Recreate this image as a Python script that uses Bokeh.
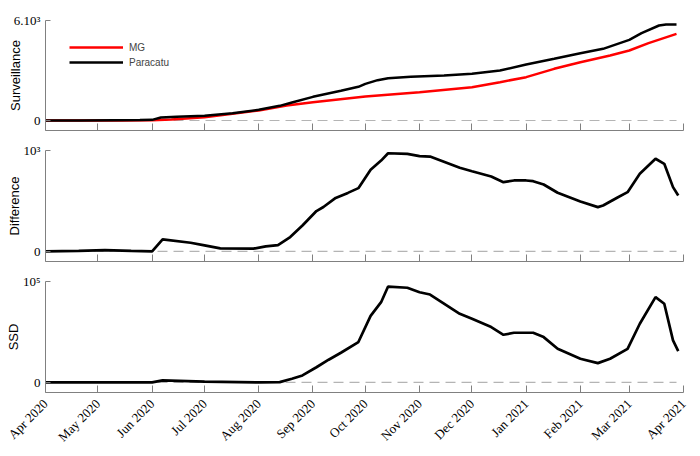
import datetime as dt
from math import pi
import pandas as pd
from bokeh.plotting import figure
from bokeh.layouts import column
from bokeh.models import Range1d, FixedTicker, Legend, LegendItem
from bokeh.embed import file_html
from bokeh.resources import INLINE

# ---------------- data ----------------
mg_dates = ["2020-04-01", "2020-05-15", "2020-06-01", "2020-06-12", "2020-07-01", "2020-07-17",
            "2020-08-01", "2020-08-17", "2020-09-01", "2020-10-01", "2020-11-01", "2020-12-01",
            "2020-12-17", "2021-01-01", "2021-01-17", "2021-02-01", "2021-02-18", "2021-03-01",
            "2021-03-12", "2021-03-28"]
mg_values = [0, 5, 15, 60, 200, 400, 600, 900, 1100, 1440, 1700, 2000, 2300, 2600, 3100, 3500,
             3900, 4200, 4640, 5200]

par_dates = ["2020-04-01", "2020-04-20", "2020-05-10", "2020-05-25", "2020-06-01", "2020-06-06",
             "2020-06-15", "2020-07-01", "2020-07-17", "2020-08-01", "2020-08-13", "2020-08-20",
             "2020-09-01", "2020-09-17", "2020-09-27", "2020-10-01", "2020-10-08", "2020-10-14",
             "2020-10-27", "2020-11-15", "2020-12-01", "2020-12-17", "2021-01-01", "2021-01-17",
             "2021-02-01", "2021-02-14", "2021-03-01", "2021-03-08", "2021-03-18", "2021-03-22",
             "2021-03-28"]
par_values = [0, 5, 15, 25, 40, 180, 220, 290, 430, 640, 880, 1080, 1420, 1780, 2020, 2200, 2420,
              2540, 2620, 2700, 2800, 3000, 3360, 3700, 4040, 4300, 4840, 5240, 5700, 5760, 5760]

diff_dates = ["2020-04-01", "2020-04-20", "2020-05-05", "2020-05-20", "2020-06-01", "2020-06-07",
              "2020-06-23", "2020-07-01", "2020-07-10", "2020-07-29", "2020-08-05", "2020-08-12",
              "2020-08-19", "2020-08-26", "2020-09-03", "2020-09-07", "2020-09-14", "2020-09-21",
              "2020-09-27", "2020-10-04", "2020-10-10", "2020-10-14", "2020-10-25", "2020-11-01",
              "2020-11-07", "2020-11-24", "2020-12-01", "2020-12-12", "2020-12-19", "2020-12-25",
              "2021-01-01", "2021-01-05", "2021-01-11", "2021-01-19", "2021-02-01", "2021-02-11",
              "2021-02-14", "2021-02-22", "2021-02-28", "2021-03-07", "2021-03-16", "2021-03-21",
              "2021-03-26", "2021-03-29"]
diff_values = [0, 5, 12, 5, 0, 120, 86, 60, 30, 27, 50, 62, 142, 257, 400, 440, 530, 580, 627, 810,
               900, 973, 967, 945, 940, 829, 795, 743, 686, 703, 703, 696, 663, 581, 495, 439, 455,
               532, 587, 769, 918, 868, 637, 554]

ssd_dates = ["2020-04-01", "2020-06-01", "2020-06-07", "2020-07-01", "2020-08-01", "2020-08-13",
             "2020-08-20", "2020-08-26", "2020-09-03", "2020-09-10", "2020-09-17", "2020-09-27",
             "2020-10-04", "2020-10-10", "2020-10-14", "2020-10-25", "2020-11-01", "2020-11-07",
             "2020-11-24", "2020-12-01", "2020-12-12", "2020-12-19", "2020-12-25", "2021-01-05",
             "2021-01-11", "2021-01-19", "2021-02-01", "2021-02-11", "2021-02-18", "2021-02-28",
             "2021-03-07", "2021-03-16", "2021-03-21", "2021-03-26", "2021-03-29"]
ssd_values = [0, 0, 2000, 700, 0, 300, 3600, 6900, 15000, 22500, 29400, 40000, 66000, 79500, 95000,
              93800, 89400, 87100, 68000, 63000, 54800, 47200, 49200, 49200, 44900, 33300, 23400,
              19100, 23400, 33300, 58100, 84500, 77900, 41600, 31000]

month_ticks = ["2020-04-01", "2020-05-01", "2020-06-01", "2020-07-01", "2020-08-01", "2020-09-01",
               "2020-10-01", "2020-11-01", "2020-12-01", "2021-01-01", "2021-02-01", "2021-03-01",
               "2021-04-01"]
month_labels = ["Apr 2020", "May 2020", "Jun 2020", "Jul 2020", "Aug 2020", "Sep 2020", "Oct 2020",
                "Nov 2020", "Dec 2020", "Jan 2021", "Feb 2021", "Mar 2021", "Apr 2021"]

panel_names = ["Surveillance", "Difference", "SSD"]
panel_tops = [6000, 1000, 100000]
panel_top_labels = ["6.10³", "10³", "10⁵"]


def ms(s):
    return (dt.datetime.strptime(s, "%Y-%m-%d") - dt.datetime(1970, 1, 1)).total_seconds() * 1000.0


def dts(lst):
    return pd.to_datetime(lst)


tick_ms = [ms(s) for s in month_ticks]
xr = Range1d(tick_ms[0], tick_ms[-1])

AXIS_GRAY = "#808080"
SERIF = "Liberation Serif"
SANS = "Liberation Sans"


def make_panel(i, frame_h, b_top, b_bottom, show_labels, title_standoff):
    top = panel_tops[i]
    p = figure(x_range=xr, y_range=Range1d(-0.1 * top, top), x_axis_type="datetime",
               frame_width=638, frame_height=frame_h,
               min_border_left=45, min_border_right=17, min_border_top=b_top,
               min_border_bottom=b_bottom, output_backend="svg", toolbar_location=None)
    p.xgrid.visible = False
    p.ygrid.visible = False
    p.outline_line_color = None
    p.background_fill_color = "white"
    p.border_fill_color = "white"

    xa = p.xaxis[0]
    xa.ticker = FixedTicker(ticks=tick_ms)
    xa.axis_line_color = AXIS_GRAY
    xa.major_tick_line_color = AXIS_GRAY
    xa.major_tick_in = 7
    xa.major_tick_out = 0
    xa.minor_tick_line_color = None
    if show_labels:
        xa.major_label_overrides = {t: lab for t, lab in zip(tick_ms, month_labels)}
        xa.major_label_orientation = pi / 4
        xa.major_label_text_font = SERIF
        xa.major_label_text_font_size = "13px"
        xa.major_label_text_color = "black"
        xa.major_label_standoff = 9
    else:
        xa.major_label_overrides = {t: "" for t in tick_ms}
        xa.major_label_text_font_size = "0px"
        xa.major_label_standoff = 0

    ya = p.yaxis[0]
    ya.ticker = FixedTicker(ticks=[0, top])
    ya.major_label_overrides = {0: "0", top: panel_top_labels[i]}
    ya.axis_line_color = AXIS_GRAY
    ya.major_tick_line_color = AXIS_GRAY
    ya.major_tick_in = 5
    ya.major_tick_out = 0
    ya.minor_tick_line_color = None
    ya.major_label_text_font = SERIF
    ya.major_label_text_font_size = "13px"
    ya.major_label_text_color = "black"
    ya.major_label_standoff = 5
    ya.axis_label = panel_names[i]
    ya.axis_label_text_font = SANS
    ya.axis_label_text_font_size = "13px"
    ya.axis_label_text_font_style = "normal"
    ya.axis_label_text_color = "black"
    ya.axis_label_standoff = title_standoff

    # zero reference line
    p.line(dts([month_ticks[0], par_dates[-1]]), [0, 0], line_color="#b4b4b4",
           line_width=1.2, line_dash="10 6")
    return p


p1 = make_panel(0, 110, 20, 10, False, -12)
r_mg = p1.line(dts(mg_dates), mg_values, line_color="#ff0000", line_width=2.5)
r_par = p1.line(dts(par_dates), par_values, line_color="black", line_width=2.5)
legend = Legend(items=[LegendItem(label="MG", renderers=[r_mg]),
                       LegendItem(label="Paracatu", renderers=[r_par])],
                location=(24, 61), border_line_color=None, background_fill_alpha=0,
                label_text_font=SANS, label_text_font_size="10px",
                glyph_width=54, glyph_height=14, label_height=14, spacing=1,
                label_standoff=6, padding=4, margin=0)
p1.add_layout(legend)

p2 = make_panel(1, 111, 10, 10, False, -1)
p2.line(dts(diff_dates), diff_values, line_color="black", line_width=2.7)

p3 = make_panel(2, 111, 10, 64, True, -1)
p3.line(dts(ssd_dates), ssd_values, line_color="black", line_width=2.7)

layout = column(p1, p2, p3, spacing=0)
open("out.html", "w").write(file_html(layout, INLINE))
